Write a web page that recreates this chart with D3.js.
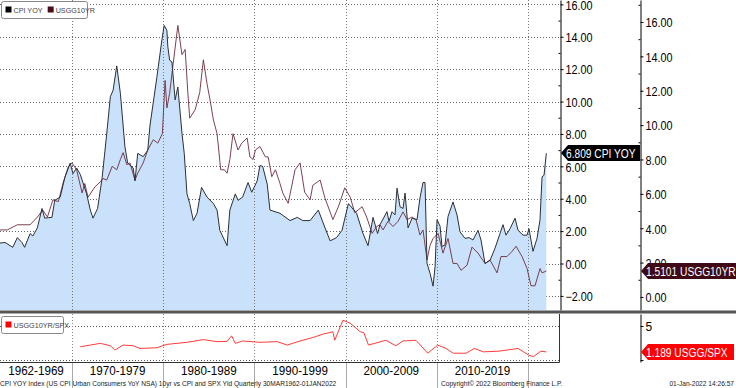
<!DOCTYPE html>
<html>
<head>
<meta charset="utf-8">
<script src="https://cdn.jsdelivr.net/npm/d3@7"></script>
<style>
  body { margin: 0; background: #fff; }
  svg { display: block; font-family: "Liberation Sans", sans-serif; }
</style>
</head>
<body>
<div id="chart"></div>
<script>
const width = 736;
const height = 388;
const plotRight = 560;
const mainTop = 0;
const mainBottom = 310;
const subTop = 314;
const subBottom = 362;

// quarterly readings: [year, value]
const cpiYoy = [
  [1962.1, 1.26], [1962.65, 1.3], [1963.5, 1.0], [1964.0, 1.6], [1964.5, 1.3], [1964.8, 1.0],
  [1965.4, 1.85], [1965.7, 1.7], [1966.2, 2.2], [1966.7, 3.4], [1967.0, 2.8], [1967.8, 2.85],
  [1968.1, 3.9], [1968.7, 4.1], [1969.2, 5.3], [1969.8, 6.2], [1970.1, 5.55], [1970.5, 5.9],
  [1970.9, 5.5], [1971.6, 4.3], [1972.0, 3.3], [1972.3, 2.8], [1972.8, 3.4], [1973.3, 5.3],
  [1973.8, 8.0], [1974.2, 10.3], [1974.5, 10.7], [1974.9, 12.2], [1975.3, 10.5], [1975.8, 7.2],
  [1976.1, 6.2], [1976.7, 5.9], [1976.9, 5.1], [1977.2, 6.8], [1977.8, 6.6], [1978.3, 7.0],
  [1978.55, 8.55], [1979.3, 11.5], [1979.85, 13.8], [1980.1, 14.7], [1980.4, 14.4], [1980.5, 13.4],
  [1980.7, 12.55], [1980.95, 12.45], [1981.3, 10.1], [1981.6, 10.9], [1982.05, 8.05], [1982.3, 6.8],
  [1982.6, 4.3], [1982.9, 3.7], [1983.3, 2.65],
  [1983.7, 3.1], [1984.2, 4.7], [1984.8, 4.1], [1985.5, 3.7], [1985.9, 3.3], [1986.2, 2.05],
  [1987.0, 1.1], [1987.3, 3.3], [1987.9, 4.3], [1988.2, 3.9], [1988.7, 4.1], [1989.3, 5.0],
  [1989.7, 4.4], [1990.3, 5.1], [1990.6, 6.05], [1990.9, 6.0], [1991.4, 4.9], [1991.7, 3.3],
  [1992.8, 3.1], [1993.9, 2.65], [1994.7, 2.85], [1995.3, 2.65], [1996.1, 2.65], [1997.0, 3.3],
  [1997.7, 2.25], [1998.3, 1.4], [1999.0, 1.6], [1999.6, 2.05], [2000.3, 3.7], [2001.2, 3.1],
  [2001.9, 1.85], [2002.45, 1.1], [2003.0, 2.85], [2003.5, 1.85],
  [2003.77, 2.4], [2004.53, 3.2], [2004.75, 2.6], [2005.08, 3.2], [2005.41, 3.0], [2005.63, 4.65],
  [2005.96, 3.5], [2006.29, 3.4], [2006.51, 4.35], [2006.84, 2.2], [2007.28, 2.8], [2007.82, 2.7],
  [2008.15, 4.05], [2008.48, 5.0], [2008.7, 5.0], [2008.92, 0.0], [2009.25, -0.6], [2009.58, -1.4],
  [2009.8, -0.2], [2010.02, 2.7], [2010.35, 2.3], [2010.56, 1.05], [2010.89, 1.15], [2011.22, 2.9],
  [2011.77, 3.8], [2012.21, 3.0], [2012.54, 1.95], [2013.09, 1.55], [2013.53, 1.6], [2013.96, 1.45],
  [2014.51, 2.05], [2014.84, 1.45], [2015.28, 0.0], [2015.83, 0.2], [2016.38, 0.95], [2016.92, 1.85],
  [2017.25, 2.4], [2017.58, 1.75], [2018.02, 2.15], [2018.57, 2.8], [2018.9, 2.05], [2019.45, 1.75],
  [2019.89, 1.75], [2020.1, 2.15], [2020.54, 0.75], [2020.98, 1.55], [2021.31, 2.7], [2021.53, 5.35],
  [2021.75, 5.45], [2022.0, 6.809]
];

const usgg10yr = [
  [1962.1, 3.9], [1962.9, 3.9], [1964.0, 4.2], [1965.4, 4.2], [1966.2, 4.65], [1966.8, 5.05],
  [1967.3, 4.65], [1967.9, 5.65], [1968.5, 5.55], [1969.0, 6.6], [1969.6, 7.6], [1970.0, 7.8],
  [1970.5, 7.4], [1971.1, 6.05], [1971.4, 6.6], [1971.75, 5.8], [1972.5, 6.4], [1973.1, 6.7],
  [1973.4, 6.9], [1973.8, 6.8], [1974.4, 7.6], [1974.9, 7.4], [1975.3, 8.0], [1975.6, 8.4],
  [1976.0, 7.7], [1976.35, 7.8], [1976.9, 6.8], [1977.2, 7.2], [1977.8, 7.8], [1978.3, 8.55],
  [1978.9, 9.15], [1979.4, 8.95], [1979.9, 9.5], [1980.2, 12.6], [1980.4, 11.0], [1980.7, 11.85],
  [1981.0, 13.2], [1981.6, 15.8], [1982.05, 14.1], [1982.4, 14.4], [1982.7, 11.85], [1982.9, 10.4],
  [1983.5, 10.9], [1984.0, 11.9], [1984.4, 13.8], [1984.8, 12.4], [1985.1, 11.55], [1985.5, 10.3],
  [1985.9, 9.5], [1986.3, 7.4], [1986.7, 7.4], [1987.0, 7.2], [1987.3, 8.0], [1987.65, 9.5],
  [1988.2, 8.55], [1988.6, 8.95], [1989.2, 9.25], [1989.5, 8.15], [1989.85, 8.0], [1990.1, 8.55],
  [1990.6, 8.75], [1991.2, 8.15], [1991.5, 8.15], [1991.9, 7.0], [1992.3, 7.4], [1992.8, 6.6],
  [1993.1, 6.05], [1993.7, 5.45], [1994.45, 7.4], [1995.0, 7.8], [1995.5, 6.1], [1996.1, 5.65],
  [1996.4, 6.5], [1997.2, 6.8], [1997.7, 5.8], [1998.6, 4.5], [1999.2, 5.25], [1999.9, 6.35],
  [2000.5, 5.8], [2001.0, 4.9], [2001.8, 5.25], [2002.3, 4.65], [2002.9, 3.7], [2003.4, 4.1],
  [2003.77, 4.2], [2004.1, 3.9], [2004.64, 4.4], [2005.19, 4.1], [2005.74, 4.4], [2006.29, 4.95],
  [2006.73, 4.5], [2007.28, 4.65], [2007.71, 4.5], [2008.15, 3.6], [2008.48, 3.9], [2008.92, 2.15],
  [2009.25, 3.0], [2009.58, 3.4], [2010.13, 3.7], [2010.67, 2.55], [2011.22, 3.4], [2011.77, 1.95],
  [2012.21, 1.95], [2012.65, 1.55], [2013.31, 1.85], [2013.85, 2.9], [2014.51, 2.55], [2015.28, 1.95],
  [2015.83, 2.15], [2016.6, 1.4], [2017.03, 2.35], [2017.69, 2.35], [2018.24, 2.65], [2018.68, 2.95],
  [2019.34, 2.35], [2019.89, 1.65], [2020.32, 0.65], [2020.76, 0.65], [2021.31, 1.65], [2021.53, 1.4],
  [2022.0, 1.5101]
];

const usggSpx = [
  [1970.9, 1.95], [1972.0, 2.2], [1973.1, 2.45], [1974.2, 2.1], [1974.7, 1.46], [1975.6, 2.2],
  [1976.7, 2.1], [1977.45, 1.7], [1979.3, 1.8], [1980.4, 2.3], [1982.6, 2.6], [1984.4, 3.0],
  [1985.9, 2.7], [1987.0, 2.75], [1987.5, 3.55], [1987.9, 2.45], [1988.7, 2.8], [1990.6, 2.6],
  [1992.5, 2.7], [1993.6, 2.2], [1995.0, 2.8], [1996.4, 3.3], [1997.5, 3.8], [1998.6, 4.15],
  [1998.8, 2.9], [1999.7, 5.85], [2000.5, 5.4], [2001.6, 4.15], [2002.0, 4.0], [2002.5, 2.2],
  [2004.4, 2.9], [2005.5, 2.1], [2006.3, 2.8], [2007.7, 2.9], [2009.0, 1.0], [2010.1, 2.2],
  [2011.0, 1.7], [2011.8, 1.0], [2013.2, 1.0], [2014.1, 1.7], [2015.1, 1.2], [2016.8, 1.3],
  [2018.9, 1.7], [2020.1, 0.7], [2020.6, 0.5], [2021.4, 1.3], [2022.0, 1.189]
];

const decades = [1970, 1980, 1990, 2000, 2010, 2020];
const decadeLabels = ["1962-1969", "1970-1979", "1980-1989", "1990-1999", "2000-2009", "2010-2019"];
const cpiTicks = [-2, 0, 2, 4, 6, 8, 10, 12, 14, 16];
const tenTicks = [0, 2, 4, 6, 8, 10, 12, 14, 16];

const x = d3.scaleLinear().domain([1962.1, 2023.5]).range([0, plotRight]);
const yCpi = d3.scaleLinear().domain([-2.87, 16.27]).range([mainBottom, mainTop]);
const yTen = d3.scaleLinear().domain([-0.76, 17.28]).range([mainBottom, mainTop]);
const yRat = d3.scaleLinear().domain([-0.29, 6.76]).range([subBottom, subTop]);

const svg = d3.create("svg")
    .attr("width", width)
    .attr("height", height);
document.getElementById("chart").append(svg.node());

// squeeze text horizontally (Bloomberg font is narrower than what we have)
function condense(sel, f) {
    sel.each(function() {
        const len = this.getComputedTextLength();
        if (len > 0) {
            this.setAttribute("textLength", len * f);
            this.setAttribute("lengthAdjust", "spacingAndGlyphs");
        }
    });
}

// horizontal grid, main panel
svg.append("g")
    .selectAll("line")
    .data(cpiTicks)
    .join("line")
    .attr("x1", 0).attr("x2", plotRight)
    .attr("y1", d => Math.round(yCpi(d)) + 0.5).attr("y2", d => Math.round(yCpi(d)) + 0.5)
    .attr("stroke", "#666").attr("stroke-dasharray", "1,2");

// cpi fill
svg.append("path")
    .datum(cpiYoy)
    .attr("fill", "#c9e1fb")
    .attr("d", d3.area().x(d => x(d[0])).y0(mainBottom).y1(d => yCpi(d[1])));

// vertical grid
svg.append("g")
    .selectAll("line")
    .data(decades)
    .join("line")
    .attr("x1", d => Math.round(x(d)) + 0.5).attr("x2", d => Math.round(x(d)) + 0.5)
    .attr("y1", mainTop).attr("y2", mainBottom)
    .attr("stroke", "#777").attr("stroke-dasharray", "1,2");

svg.append("path")
    .datum(usgg10yr)
    .attr("fill", "none")
    .attr("stroke", "#6e2c3a")
    .attr("stroke-width", 0.9)
    .attr("d", d3.line().x(d => x(d[0])).y(d => yTen(d[1])));

svg.append("path")
    .datum(cpiYoy)
    .attr("fill", "none")
    .attr("stroke", "#2b2f36")
    .attr("stroke-width", 1)
    .attr("d", d3.line().x(d => x(d[0])).y(d => yCpi(d[1])));

// axes
function drawAxis(scale, xPos, majors) {
    const minors = d3.range(scale.domain()[0], scale.domain()[1], 1)
        .map(v => Math.ceil(v)).filter(v => v % 2 !== 0);
    svg.append("g")
        .attr("transform", `translate(${xPos + 0.5},0)`)
        .call(d3.axisLeft(scale).tickValues(minors).tickSize(2).tickFormat("").tickSizeOuter(0))
        .call(g => g.select(".domain").remove())
        .selectAll("line").attr("stroke", "#000");
    const g = svg.append("g")
        .attr("transform", `translate(${xPos + 0.5},0)`)
        .call(d3.axisRight(scale).tickValues(majors).tickSize(3).tickPadding(2)
            .tickFormat(d3.format(".2f")).tickSizeOuter(0))
        .call(g => g.select(".domain").attr("stroke", "#000"));
    const labels = g.selectAll("text")
        .attr("font-family", "'Liberation Sans', sans-serif")
        .attr("font-size", 12).attr("fill", "#000")
        .attr("dy", "0.4em");
    condense(labels, 0.9);
}
drawAxis(yCpi, plotRight, cpiTicks);
drawAxis(yTen, 640, tenTicks);

// separator between panels
svg.append("rect").attr("x", 0).attr("y", mainBottom + 0.5).attr("width", width).attr("height", 2.5).attr("fill", "#555");
svg.append("line").attr("x1", 0).attr("x2", width).attr("y1", mainBottom + 3.5).attr("y2", mainBottom + 3.5).attr("stroke", "#aaa");

// lower panel
svg.append("g")
    .selectAll("line")
    .data([5, 0])
    .join("line")
    .attr("x1", 0).attr("x2", plotRight)
    .attr("y1", d => Math.round(yRat(d)) + 0.5).attr("y2", d => Math.round(yRat(d)) + 0.5)
    .attr("stroke", "#555").attr("stroke-dasharray", "1,2");

svg.append("g")
    .selectAll("line")
    .data(decades)
    .join("line")
    .attr("x1", d => Math.round(x(d)) + 0.5).attr("x2", d => Math.round(x(d)) + 0.5)
    .attr("y1", subTop).attr("y2", subBottom)
    .attr("stroke", "#888").attr("stroke-dasharray", "1,2");

svg.append("path")
    .datum(usggSpx)
    .attr("fill", "none")
    .attr("stroke", "#ff3b3b")
    .attr("stroke-width", 1)
    .attr("d", d3.line().x(d => x(d[0])).y(d => yRat(d[1])));

svg.append("line").attr("x1", 0).attr("x2", plotRight - 0.5).attr("y1", subBottom + 0.5).attr("y2", subBottom + 0.5).attr("stroke", "#333");
svg.append("line").attr("x1", plotRight - 0.5).attr("x2", plotRight - 0.5).attr("y1", subTop).attr("y2", subBottom + 0.5).attr("stroke", "#333");

const ratAxis = svg.append("g")
    .attr("transform", `translate(640.5,0)`)
    .call(d3.axisRight(yRat).tickValues([0, 5]).tickSize(3).tickPadding(2).tickFormat(d => d === 5 ? "5" : "").tickSizeOuter(0))
    .call(g => g.select(".domain").attr("stroke", "#000"));
ratAxis.selectAll("text").attr("font-size", 12).attr("fill", "#000").attr("dy", "0.4em");

// decade labels
svg.append("g")
    .selectAll("line")
    .data(decades)
    .join("line")
    .attr("x1", d => Math.round(x(d)) + 0.5).attr("x2", d => Math.round(x(d)) + 0.5)
    .attr("y1", subBottom + 1).attr("y2", height)
    .attr("stroke", "#aaa");

const decadeText = svg.append("g")
    .selectAll("text")
    .data(decadeLabels)
    .join("text")
    .attr("x", (d, i) => (x(i === 0 ? 1962.1 : decades[i - 1]) + x(decades[i])) / 2)
    .attr("y", 375)
    .attr("text-anchor", "middle")
    .attr("font-size", 12.5)
    .attr("fill", "#000")
    .text(d => d);
condense(decadeText, 0.93);

// legends
function legend(xPos, yPos, w, items) {
    const g = svg.append("g").attr("transform", `translate(${xPos},${yPos})`);
    g.append("rect").attr("width", w).attr("height", 17).attr("rx", 2)
        .attr("fill", "#fff").attr("stroke", "#888");
    let cx = 4;
    items.forEach(([label, color]) => {
        g.append("rect").attr("x", cx).attr("y", 5).attr("width", 6).attr("height", 6).attr("fill", color);
        const t = g.append("text").attr("x", cx + 8).attr("y", 11.5)
            .attr("font-size", 8).attr("fill", "#444").text(label);
        condense(t, 0.9);
        cx += t.node().getComputedTextLength() * 0.9 + 16;
    });
}
legend(1.5, 1.5, 86, [["CPI YOY", "#000"], ["USGG10YR", "#4a0d1a"]]);
legend(1.5, 316.5, 62, [["USGG10YR/SPX", "#ff0000"]]);

// value tags
function tag(xPos, value, w, label, fill) {
    const g = svg.append("g").attr("transform", `translate(${xPos},${Math.round(value)})`);
    g.append("path")
        .attr("d", `M0,0 L7,-8 L${w},-8 L${w},8 L7,8 Z`)
        .attr("fill", fill);
    const t = g.append("text").attr("x", 5).attr("y", 4.5)
        .attr("font-size", 12).attr("fill", "#fff").text(label);
    condense(t, 0.85);
}
const lastCpi = cpiYoy[cpiYoy.length - 1][1];
const lastTen = usgg10yr[usgg10yr.length - 1][1];
const lastRat = usggSpx[usggSpx.length - 1][1];
tag(plotRight + 1, yCpi(lastCpi), 79, `${lastCpi} CPI YOY`, "#000");
tag(641, yTen(lastTen), 95, `${lastTen} USGG10YR`, "#3f0a16");
tag(641, yRat(lastRat), 93, `${lastRat} USGG/SPX`, "#ff0000");

// footer
const footer = svg.append("g")
    .attr("font-size", 7.5).attr("fill", "#222");
footer.append("text").attr("x", 0).attr("y", 386)
    .text("CPI YOY Index (US CPI Urban Consumers YoY NSA) 10yr vs CPI and SPX Yld  Quarterly 30MAR1962-01JAN2022");
footer.append("text").attr("x", 441).attr("y", 386)
    .text("Copyright\u00a9 2022 Bloomberg Finance L.P.");
footer.append("text").attr("x", 734).attr("y", 386).attr("text-anchor", "end")
    .text("01-Jan-2022 14:26:57");
condense(footer.selectAll("text"), 0.88);
</script>
</body>
</html>
